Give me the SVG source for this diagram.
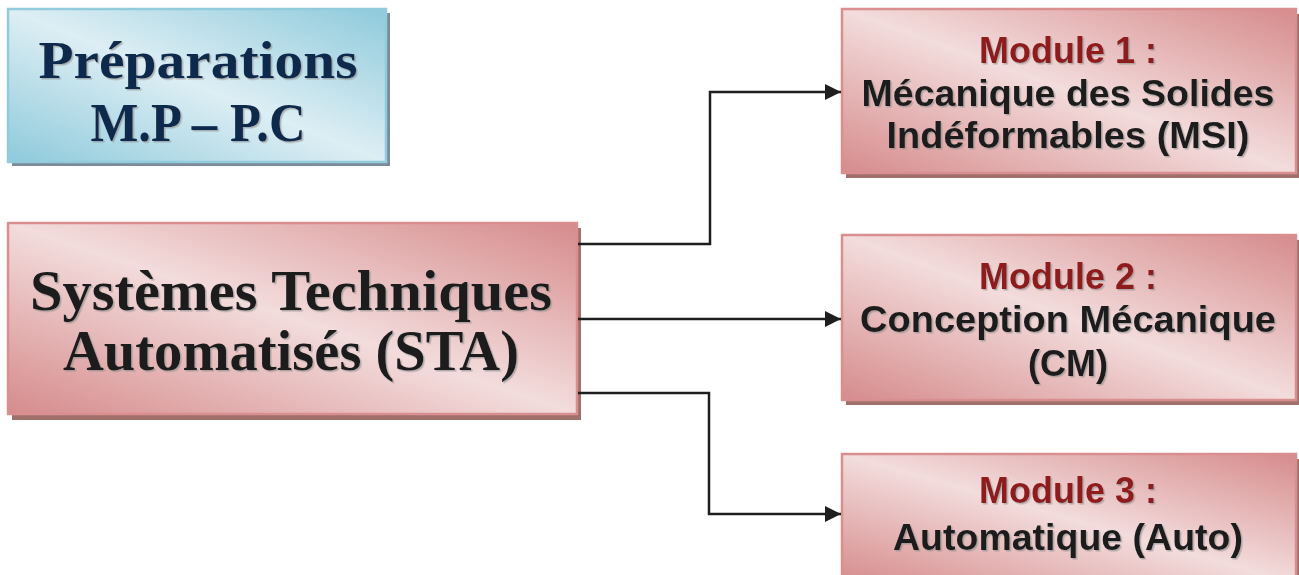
<svg xmlns="http://www.w3.org/2000/svg" width="1299" height="575" viewBox="0 0 1299 575">
<defs>
<linearGradient id="gPink" x1="1" y1="0" x2="0" y2="1">
<stop offset="0" stop-color="#d68b8c"/>
<stop offset="0.5" stop-color="#f3dcdc"/>
<stop offset="1" stop-color="#d68b8c"/>
</linearGradient>
<linearGradient id="gBlue" x1="1" y1="0" x2="0" y2="1">
<stop offset="0" stop-color="#8ecadb"/>
<stop offset="0.5" stop-color="#ddeef4"/>
<stop offset="1" stop-color="#8ecadb"/>
</linearGradient>
<filter id="ts" x="-5%" y="-20%" width="110%" height="140%">
<feDropShadow dx="1.5" dy="1.5" stdDeviation="0.6" flood-color="#8a8a8a" flood-opacity="0.6"/>
</filter>
<marker id="arr" viewBox="0 0 10 10" refX="10" refY="5" markerWidth="6.4" markerHeight="6.4" markerUnits="strokeWidth" orient="auto">
<path d="M0,0 L10,5 L0,10 Z" fill="#1e1e1e"/>
</marker>
</defs>
<style>
.pink{fill:url(#gPink);stroke:#d98e90;stroke-width:2.5}
.pshadow{fill:#a0706d}
.blue{fill:url(#gBlue);stroke:#92cbdc;stroke-width:2.5}
.bshadow{fill:#7b8b99}
.serif{font-family:"Liberation Serif","DejaVu Serif",serif;font-weight:bold;text-anchor:middle}
.sans{font-family:"Liberation Sans",Arial,sans-serif;font-weight:bold;text-anchor:middle;font-size:36px;fill:#1c1c1c}
.mod{fill:#8e1b1d}
.conn{fill:none;stroke:#1e1e1e;stroke-width:2.5;marker-end:url(#arr)}
</style>

<g id="prep">
<rect class="bshadow" x="12" y="13" width="378" height="153"/>
<rect class="blue" x="8" y="9" width="378" height="153"/>
<g filter="url(#ts)">
<text class="serif" x="198" y="78" font-size="52" fill="#0d2a4e" textLength="319" lengthAdjust="spacingAndGlyphs">Préparations</text>
<text class="serif" x="198" y="141" font-size="54" fill="#0d2a4e" textLength="215" lengthAdjust="spacingAndGlyphs">M.P – P.C</text>
</g>
</g>

<g id="sta">
<rect class="pshadow" x="12" y="228" width="569" height="192"/>
<rect class="pink" x="8" y="223" width="569" height="191"/>
<g filter="url(#ts)">
<text class="serif" x="291" y="310" font-size="56" fill="#1c1c1c" textLength="522" lengthAdjust="spacingAndGlyphs">Systèmes Techniques</text>
<text class="serif" x="291" y="370" font-size="56" fill="#1c1c1c" textLength="456" lengthAdjust="spacingAndGlyphs">Automatisés (STA)</text>
</g>
</g>

<g id="module1">
<rect class="pshadow" x="846" y="14" width="454" height="164"/>
<rect class="pink" x="842" y="9" width="454" height="164"/>
<g filter="url(#ts)">
<text class="sans mod" x="1068" y="63">Module 1 :</text>
<text class="sans" x="1068" y="106" textLength="413" lengthAdjust="spacingAndGlyphs">Mécanique des Solides</text>
<text class="sans" x="1068" y="148" textLength="363" lengthAdjust="spacingAndGlyphs">Indéformables (MSI)</text>
</g>
</g>

<g id="module2">
<rect class="pshadow" x="846" y="240" width="454" height="165"/>
<rect class="pink" x="842" y="235" width="454" height="165"/>
<g filter="url(#ts)">
<text class="sans mod" x="1068" y="289">Module 2 :</text>
<text class="sans" x="1068" y="332" textLength="416" lengthAdjust="spacingAndGlyphs">Conception Mécanique</text>
<text class="sans" x="1068" y="376">(CM)</text>
</g>
</g>

<g id="module3">
<rect class="pshadow" x="846" y="459" width="454" height="130"/>
<rect class="pink" x="842" y="454" width="454" height="130"/>
<g filter="url(#ts)">
<text class="sans mod" x="1068" y="503">Module 3 :</text>
<text class="sans" x="1068" y="550" textLength="350" lengthAdjust="spacingAndGlyphs">Automatique (Auto)</text>
</g>
</g>

<g id="connectors">
<path class="conn" d="M578,244 H710 V92 H841"/>
<path class="conn" d="M578,319 H841"/>
<path class="conn" d="M578,393 H709 V514 H841"/>
</g>
</svg>
